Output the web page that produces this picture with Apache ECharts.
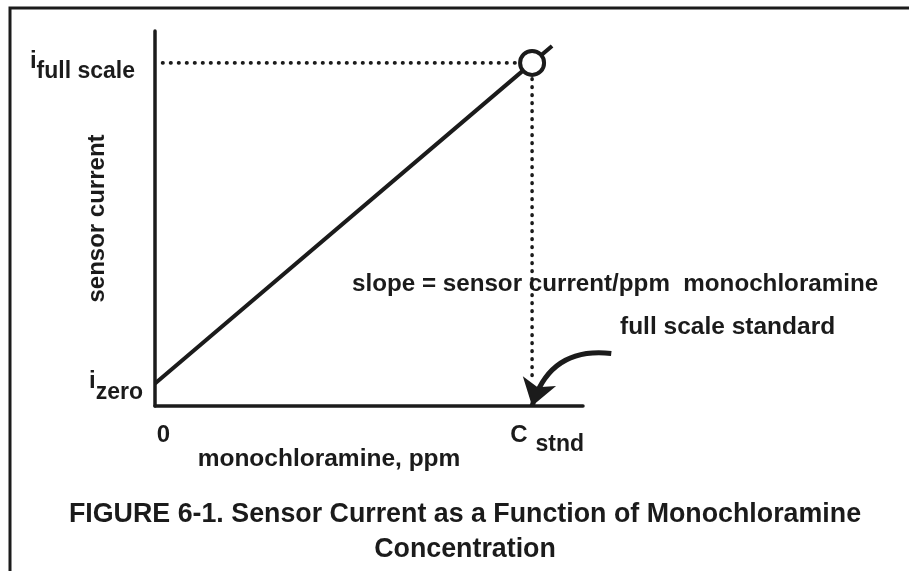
<!DOCTYPE html>
<html>
<head>
<meta charset="utf-8">
<script src="https://cdn.jsdelivr.net/npm/echarts@6/dist/echarts.min.js"></script>
<style>
html, body { margin: 0; padding: 0; background: #fff; }
#main { width: 909px; height: 571px; }
</style>
</head>
<body>
<div id="main"></div>
<script>
// x in units of the full scale standard (C stnd = 1), y in % of axis height
const concentration = [0, 1, 1.053];
const sensorCurrent = [6, 91.5, 96];
const fullScalePoint = [1, 91.5];
const xTickValues = [0, 1];
const yTickValues = [6, 91.5];
const guideH = [[0.02, 91.5], [1, 91.5]];
const guideV = [[1, 91.5], [1, 7]];
const arrowPath = [[1.21, 14], [1, 0]];

const ink = '#1b1b1b';
const font = "'Liberation Sans', Arial, sans-serif";
const txt = (size, extra) => Object.assign({ fontSize: size, fontWeight: 'bold', color: ink, fontFamily: font }, extra || {});

const chart = echarts.init(document.getElementById('main'));

chart.setOption({
    animation: false,
    backgroundColor: '#fff',
    textStyle: { fontFamily: font, color: ink, fontWeight: 'bold' },
    grid: { left: 155, top: 31, right: 326, bottom: 165, containLabel: false },
    title: [
        {
            text: 'FIGURE 6-1. Sensor Current as a Function of Monochloramine\nConcentration',
            left: 465, top: 497, textAlign: 'center', padding: 0,
            textStyle: txt(26.8, { lineHeight: 35 })
        },
        {
            text: 'slope = sensor current/ppm  monochloramine',
            left: 352, top: 272, padding: 0,
            textStyle: txt(24.2)
        },
        {
            text: 'full scale standard',
            left: 620, top: 315, padding: 0,
            textStyle: txt(24.5)
        }
    ],
    xAxis: {
        type: 'value', min: 0, max: 1.135,
        name: 'monochloramine, ppm',
        nameLocation: 'middle', nameGap: 41, nameMoveOverlap: false,
        nameTextStyle: txt(24.5, { padding: [0, 80, 0, 0] }),
        axisLine: { lineStyle: { color: ink, width: 3.5 } },
        axisTick: { show: false },
        splitLine: { show: false },
        axisLabel: {
            customValues: xTickValues,
            align: 'center', margin: 17,
            formatter: v => v === 0 ? '{n|0}' : '{c|C}{s|stnd}',
            rich: {
                n: txt(24, { padding: [0, 0, 0, 17] }),
                c: txt(24, { padding: [0, 0, 8, 30] }),
                s: txt(23, { padding: [10, 0, 0, 8] })
            }
        }
    },
    yAxis: {
        type: 'value', min: 0, max: 100,
        name: 'sensor current',
        nameLocation: 'middle', nameGap: 46, nameMoveOverlap: false,
        nameTextStyle: txt(24),
        axisLine: { lineStyle: { color: ink, width: 3.5 } },
        axisTick: { show: false },
        splitLine: { show: false },
        axisLabel: {
            customValues: yTickValues,
            align: 'right', margin: 12,
            formatter: v => v === yTickValues[0] ? '{i|i}{s|zero}' : '{i|i}{f|full scale}',
            rich: {
                i: txt(24, { padding: [0, 0, 4, 0] }),
                s: txt(23, { padding: [18, 0, 0, 0] }),
                f: txt(23, { padding: [18, 8, 0, 0] })
            }
        }
    },
    series: [
        {
            type: 'line', clip: false, symbol: 'none', z: 2,
            data: concentration.map((c, i) => [c, sensorCurrent[i]]),
            lineStyle: { color: ink, width: 4 }
        },
        {
            type: 'line', clip: false, symbol: 'none', z: 1,
            data: guideH,
            lineStyle: { color: ink, width: 3.6, type: [0.5, 7.5], cap: 'round' }
        },
        {
            type: 'line', clip: false, symbol: 'none', z: 1,
            data: guideV,
            lineStyle: { color: ink, width: 3.6, type: [0.5, 7.5], cap: 'round' }
        },
        {
            type: 'lines', coordinateSystem: 'cartesian2d', clip: false, z: 3,
            symbol: ['none', 'arrow'], symbolSize: 26,
            lineStyle: { color: ink, width: 5, curveness: -0.42, opacity: 1 },
            data: [{ coords: arrowPath }]
        },
        {
            type: 'scatter', clip: false, z: 4,
            symbol: 'circle', symbolSize: 24,
            itemStyle: { color: '#fff', borderColor: ink, borderWidth: 4, opacity: 1 },
            data: [fullScalePoint]
        }
    ],
    graphic: [
        {
            type: 'polyline', silent: true,
            shape: { points: [[10, 571], [10, 8], [909, 8]] },
            style: { stroke: ink, lineWidth: 3, fill: null }
        }
    ]
});
</script>
</body>
</html>
